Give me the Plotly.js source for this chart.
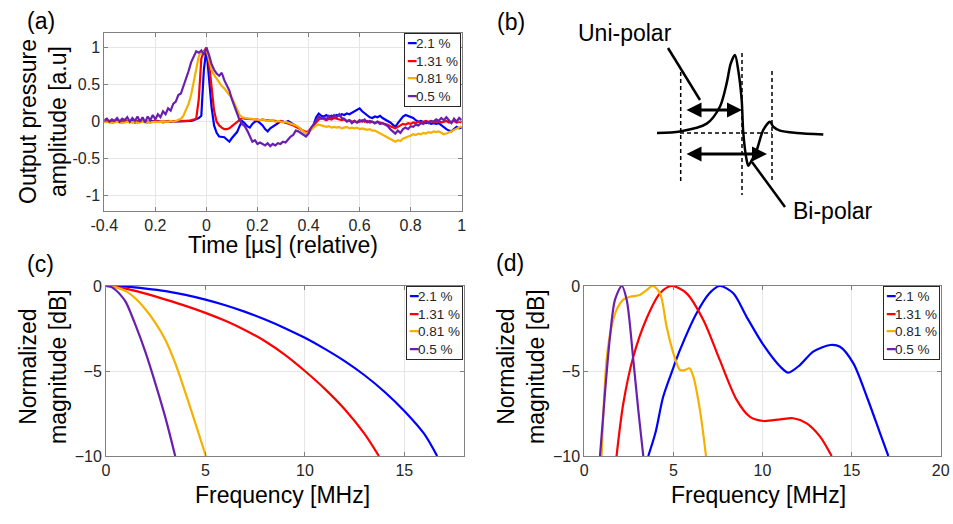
<!DOCTYPE html>
<html>
<head>
<meta charset="utf-8">
<script src="https://cdn.plot.ly/plotly-3.0.1.min.js"></script>
<style>html,body{margin:0;padding:0;background:#fff;}#chart{width:953px;height:524px;}</style>
</head>
<body>
<div id="chart"></div>
<script>
// ---------- DATA ----------
const seriesNames = ['2.1 %', '1.31 %', '0.81 %', '0.5 %'];

// (a) time axis [µs] (relative)
const timeUs = [
-0.40,-0.39,-0.38,-0.37,-0.36,-0.35,-0.34,-0.33,-0.32,-0.31,
-0.30,-0.29,-0.28,-0.27,-0.26,-0.25,-0.24,-0.23,-0.22,-0.21,
-0.20,-0.19,-0.18,-0.17,-0.16,-0.15,-0.14,-0.13,-0.12,-0.11,
-0.10,-0.09,-0.08,-0.07,-0.06,-0.05,-0.04,-0.03,-0.02,-0.01,
0.00,0.01,0.02,0.03,0.04,0.05,0.06,0.07,0.08,0.09,
0.10,0.11,0.12,0.13,0.14,0.15,0.16,0.17,0.18,0.19,
0.20,0.21,0.22,0.23,0.24,0.25,0.26,0.27,0.28,0.29,
0.30,0.31,0.32,0.33,0.34,0.35,0.36,0.37,0.38,0.39,
0.40,0.41,0.42,0.43,0.44,0.45,0.46,0.47,0.48,0.49,
0.50,0.51,0.52,0.53,0.54,0.55,0.56,0.57,0.58,0.59,
0.60,0.61,0.62,0.63,0.64,0.65,0.66,0.67,0.68,0.69,
0.70,0.71,0.72,0.73,0.74,0.75,0.76,0.77,0.78,0.79,
0.80,0.81,0.82,0.83,0.84,0.85,0.86,0.87,0.88,0.89,
0.90,0.91,0.92,0.93,0.94,0.95,0.96,0.97,0.98,0.99,
1.00];

const pressure21 = [
0.01,0.00,0.01,-0.01,0.00,0.01,0.00,-0.01,0.01,0.00,
0.00,0.01,-0.01,0.00,0.01,0.00,0.00,-0.01,0.01,0.00,
0.00,0.01,0.00,-0.01,0.00,0.01,0.00,0.00,0.01,0.00,
0.01,0.00,0.01,0.01,0.01,0.02,0.03,0.05,0.08,0.70,
0.98,0.60,0.20,-0.05,-0.15,-0.20,-0.20,-0.21,-0.24,-0.27,
-0.22,-0.18,-0.14,-0.06,0.01,-0.02,-0.06,-0.08,-0.03,0.00,
0.01,-0.02,-0.05,-0.10,-0.13,-0.09,-0.07,-0.04,-0.02,0.00,
0.00,-0.01,0.01,-0.01,-0.03,-0.05,-0.08,-0.10,-0.13,-0.15,
-0.13,-0.10,-0.04,0.06,0.11,0.08,0.07,0.09,0.06,0.08,
0.07,0.09,0.08,0.10,0.09,0.11,0.10,0.12,0.13,0.15,
0.18,0.14,0.11,0.08,0.06,0.05,0.07,0.06,0.08,0.05,
0.03,0.02,-0.01,-0.04,-0.07,-0.02,0.02,0.07,0.09,0.08,
0.07,0.05,0.02,0.00,0.01,-0.01,-0.02,-0.01,-0.03,-0.02,
-0.03,-0.02,-0.05,-0.08,-0.10,-0.12,-0.13,-0.10,-0.07,-0.09,
-0.08];

const pressure131 = [
0.00,0.01,0.00,0.00,-0.01,0.00,0.01,0.00,0.00,0.01,
0.00,-0.01,0.00,0.01,0.00,0.00,0.01,0.00,-0.01,0.00,
0.01,0.00,0.00,0.01,0.00,0.01,0.00,0.01,0.01,0.00,
0.01,0.01,0.00,0.01,0.02,0.03,0.04,0.30,0.85,0.95,
1.00,0.80,0.50,0.15,0.00,-0.05,-0.08,-0.10,-0.10,-0.09,
-0.06,-0.03,0.00,0.03,0.05,0.04,0.04,0.03,0.04,0.03,
0.03,0.02,0.03,0.02,0.02,0.01,0.02,0.01,0.00,0.01,
0.00,-0.01,-0.02,-0.03,-0.05,-0.07,-0.09,-0.11,-0.12,-0.14,
-0.13,-0.09,-0.05,-0.01,0.03,0.05,0.03,0.02,0.04,0.03,
0.05,0.04,0.03,0.02,0.03,0.01,0.02,0.00,0.01,-0.01,
0.00,0.02,0.00,0.01,-0.01,0.00,-0.02,0.00,-0.01,-0.02,
-0.02,-0.04,-0.06,-0.08,-0.09,-0.07,-0.05,-0.03,-0.04,-0.02,
-0.03,-0.01,-0.02,0.00,-0.01,0.00,0.01,0.00,0.01,-0.01,
0.00,0.01,-0.01,0.00,0.01,-0.01,0.00,0.01,-0.01,0.00,
-0.01];

const pressure081 = [
-0.01,0.00,-0.01,-0.02,-0.01,0.00,-0.01,-0.02,-0.01,0.00,
-0.01,-0.01,0.00,-0.02,-0.01,0.00,-0.01,-0.01,0.00,-0.01,
0.00,-0.01,0.00,0.00,-0.01,0.00,0.01,0.00,0.01,0.02,
0.04,0.08,0.15,0.24,0.36,0.52,0.72,0.88,0.95,0.93,
0.98,0.82,0.70,0.63,0.58,0.52,0.48,0.45,0.40,0.36,
0.32,0.25,0.16,0.09,0.06,0.05,0.05,0.04,0.04,0.03,
0.03,0.02,0.03,0.02,0.01,0.02,0.01,0.00,0.01,0.00,
-0.01,0.00,-0.01,-0.02,-0.03,-0.05,-0.07,-0.10,-0.13,-0.16,
-0.14,-0.11,-0.08,-0.05,-0.04,-0.05,-0.06,-0.07,-0.06,-0.08,
-0.07,-0.08,-0.07,-0.09,-0.08,-0.07,-0.09,-0.08,-0.09,-0.08,
-0.10,-0.09,-0.10,-0.11,-0.10,-0.12,-0.12,-0.14,-0.15,-0.17,
-0.19,-0.21,-0.23,-0.25,-0.27,-0.25,-0.26,-0.23,-0.21,-0.20,
-0.19,-0.17,-0.18,-0.16,-0.17,-0.15,-0.16,-0.14,-0.15,-0.13,
-0.14,-0.13,-0.15,-0.17,-0.16,-0.15,-0.13,-0.11,-0.10,-0.08,
-0.06];

const pressure05 = [
0.02,0.04,0.00,0.03,0.01,0.05,0.00,0.04,0.02,0.06,
0.00,0.05,0.01,0.07,0.00,0.06,-0.01,0.07,0.02,0.09,
0.03,0.10,0.06,0.14,0.10,0.18,0.15,0.24,0.27,0.36,
0.38,0.48,0.55,0.68,0.80,0.88,0.95,0.93,0.96,0.90,
1.00,0.90,0.78,0.70,0.65,0.62,0.66,0.56,0.50,0.42,
0.30,0.20,0.10,0.02,-0.03,-0.06,-0.12,-0.20,-0.27,-0.25,
-0.30,-0.28,-0.30,-0.32,-0.29,-0.33,-0.30,-0.32,-0.29,-0.30,
-0.27,-0.28,-0.24,-0.20,-0.18,-0.12,-0.13,-0.15,-0.18,-0.20,
-0.16,-0.08,-0.04,0.02,0.07,0.04,0.06,0.03,0.08,0.05,
0.09,0.06,0.10,0.05,0.04,0.00,0.02,-0.02,0.01,-0.01,
0.02,0.00,0.03,-0.01,0.01,0.00,-0.02,0.00,-0.03,-0.02,
-0.04,-0.06,-0.10,-0.13,-0.16,-0.12,-0.15,-0.10,-0.08,-0.10,
-0.06,-0.07,-0.04,-0.05,-0.02,-0.03,0.00,-0.02,0.01,0.00,
0.03,0.01,0.05,0.02,0.06,0.02,-0.02,0.04,0.00,0.05,
0.02];

const timeTickVals = [-0.4,-0.2,0,0.2,0.4,0.6,0.8,1];
const timeTickText = ['-0.4','0.2','0','0.2','0.4','0.6','0.8','1'];
const pressTickVals = [-1,-0.5,0,0.5,1];
const pressTickText = ['-1','-0.5','0','0.5','1'];

// (b) schematic pulse (arbitrary time / amplitude units)
const pulseT = [-1.66,-1.2,-0.666,-0.4,-0.266,-0.186,-0.1,-0.034,0.034,0.066,0.134,0.166,0.234,0.334,0.466,0.6,0.666,0.8,1.134,1.666];
const pulseA = [0,0.02,0.12,0.34,0.64,0.89,1.0,0.8,0.42,0.0,-0.35,-0.42,-0.35,-0.22,0.04,0.145,0.08,0.03,0.0,-0.02];

// (c) normalized magnitude [dB] vs frequency [MHz]
const fc21 = [0,1,2,3,4,5,6,7,8,9,10,11,12,13,14,15,16,16.65];
const dBc21 = [0,-0.04,-0.15,-0.3,-0.52,-0.8,-1.13,-1.52,-1.97,-2.48,-3.05,-3.7,-4.42,-5.25,-6.22,-7.35,-8.7,-10];
const fc131 = [0,1,2,3,4,5,6,7,8,9,10,11,12,13,13.72];
const dBc131 = [0,-0.15,-0.45,-0.8,-1.17,-1.58,-2.05,-2.6,-3.25,-4.05,-5.0,-6.05,-7.25,-8.7,-10];
const fc081 = [0,0.5,1,1.5,2,2.5,3,3.5,4,4.5,5.02];
const dBc081 = [0,-0.08,-0.3,-0.75,-1.4,-2.2,-3.2,-4.6,-6.3,-8.1,-10];
const fc05 = [0,0.25,0.5,0.75,1,1.5,2,2.5,3,3.48];
const dBc05 = [0,-0.05,-0.25,-0.55,-0.95,-2.35,-3.95,-5.8,-7.8,-10];

// (d) normalized magnitude [dB] vs frequency [MHz]
const fd21 = [3.59,4.0,4.43,5.0,5.37,6.3,7.0,7.6,8.36,9.1,10.05,11.0,11.45,12.1,12.85,13.8,14.35,15.1,15.85,16.6,17.06];
const dBd21 = [-10,-8.6,-6.5,-4.8,-3.76,-1.6,-0.45,0,-0.43,-1.8,-3.47,-4.75,-5.1,-4.65,-3.86,-3.47,-3.57,-4.55,-6.5,-8.67,-10];
const fd131 = [1.81,2.19,2.75,3.5,4.25,4.9,5.74,6.68,7.6,8.55,9.3,10.05,11.0,11.73,12.48,13.23,13.88];
const dBd131 = [-10,-6.9,-4.16,-1.9,-0.43,0,-0.43,-2.0,-4.35,-6.7,-7.7,-7.94,-7.84,-7.78,-8.08,-8.86,-10];
const fd081 = [0.97,1.25,1.53,1.81,2.19,2.56,3.12,3.5,3.84,4.25,4.62,5.0,5.37,5.65,5.9,6.12,6.49,6.83];
const dBd081 = [-10,-4.35,-2.4,-1.4,-0.8,-0.63,-0.53,-0.24,0,-0.43,-2.4,-3.96,-4.94,-4.94,-4.84,-5.33,-7.3,-10];
const fd05 = [0.88,1.16,1.44,1.72,2.1,2.38,2.75,3.03,3.31];
const dBd05 = [-10,-6.3,-3.0,-0.82,0,-0.82,-4.35,-7.3,-10];

const freqTicksC = [0,5,10,15];
const freqTicksD = [0,5,10,15,20];
const dBTicks = [-10,-5,0];

// ---------- STYLE ----------
const colors = ['#0000ff', '#ff0000', '#f7b000', '#6a1fb0'];
const FONT = 'Liberation Sans, Arial, Helvetica, sans-serif';
const TXT = '#000000';
const TICKC = '#262626';

function line(x, y, i, xa, ya) {
  return {
    type: 'scatter', mode: 'lines', x: x, y: y, xaxis: xa, yaxis: ya,
    name: seriesNames[i], showlegend: false,
    line: {color: colors[i], width: 2.2, shape: xa === 'x' ? 'linear' : 'spline', smoothing: 0.8},
    hoverinfo: 'x+y'
  };
}

const traces = [
  line(timeUs, pressure21, 0, 'x', 'y'),
  line(timeUs, pressure131, 1, 'x', 'y'),
  line(timeUs, pressure081, 2, 'x', 'y'),
  line(timeUs, pressure05, 3, 'x', 'y'),
  line(fc21, dBc21, 0, 'x2', 'y2'),
  line(fc131, dBc131, 1, 'x2', 'y2'),
  line(fc081, dBc081, 2, 'x2', 'y2'),
  line(fc05, dBc05, 3, 'x2', 'y2'),
  line(fd21, dBd21, 0, 'x3', 'y3'),
  line(fd131, dBd131, 1, 'x3', 'y3'),
  line(fd081, dBd081, 2, 'x3', 'y3'),
  line(fd05, dBd05, 3, 'x3', 'y3'),
  {type: 'scatter', mode: 'lines', x: pulseT, y: pulseA, xaxis: 'x4', yaxis: 'y4',
   line: {color: '#000', width: 2.5, shape: 'spline', smoothing: 0.8}, showlegend: false, hoverinfo: 'skip'}
];

function axisStyle(extra) {
  return Object.assign({
    showline: true, mirror: 'ticks', linecolor: '#808080', linewidth: 1,
    showgrid: true, gridcolor: '#e6e6e6', gridwidth: 1, zeroline: false,
    ticks: 'inside', ticklen: 4, tickcolor: '#808080',
    tickfont: {family: FONT, size: 16, color: TICKC}, fixedrange: true
  }, extra);
}

const W = 953, H = 524;
const px = v => v / W;
const py = v => 1 - v / H;

function label(text, x, y, size, angle) {
  return {text: text, xref: 'paper', yref: 'paper', x: px(x), y: py(y),
    xanchor: 'center', yanchor: 'middle', showarrow: false, textangle: angle || 0,
    font: {family: FONT, size: size, color: TXT}};
}

// compact MATLAB-style legend box built from the series names and colours
function legendBox(xr, yt) {
  const rows = seriesNames.map((n, i) =>
    '<span style="color:' + colors[i] + '">\u2501</span>' + n);
  return {text: rows.join('<br>'), xref: 'paper', yref: 'paper', x: px(xr), y: py(yt),
    xanchor: 'right', yanchor: 'top', align: 'left', showarrow: false,
    bgcolor: '#ffffff', bordercolor: '#262626', borderwidth: 1, borderpad: 2,
    font: {family: FONT, size: 13.5, color: TICKC}};
}

const annotations = [
  label('(a)', 41, 21, 23),
  label('(b)', 511, 22, 23),
  label('(c)', 40, 264, 23),
  label('(d)', 510, 263, 23),
  label('Output pressure<br>amplitude [a.u]', 43, 122, 23, -90),
  label('Time [µs] (relative)', 283, 245, 23),
  label('Normalized<br>magnitude [dB]', 43, 367, 23, -90),
  label('Frequency [MHz]', 282, 495, 23),
  label('Normalized<br>magnitude [dB]', 521, 367, 23, -90),
  label('Frequency [MHz]', 758, 495, 23),
  label('Uni-polar', 625, 33, 23),
  label('Bi-polar', 833, 211, 23),
  legendBox(461, 33),
  legendBox(463, 286),
  legendBox(940, 286),
  {text: '', xref: 'x4', yref: 'y4', axref: 'x4', ayref: 'y4', x: 0.04, y: 0.295, ax: -1.1, ay: 0.295,
   showarrow: true, arrowside: 'end+start', arrowhead: 2, startarrowhead: 2, arrowsize: 1, startarrowsize: 1,
   arrowwidth: 3, arrowcolor: '#000', standoff: 0, startstandoff: 0},
  {text: '', xref: 'x4', yref: 'y4', axref: 'x4', ayref: 'y4', x: 0.54, y: -0.269, ax: -1.1, ay: -0.269,
   showarrow: true, arrowside: 'end+start', arrowhead: 2, startarrowhead: 2, arrowsize: 1, startarrowsize: 1,
   arrowwidth: 3, arrowcolor: '#000', standoff: 0, startstandoff: 0}
];

const dash = {color: '#000', width: 1.5, dash: '4px,3px'};
const shapes = [
  {type: 'line', xref: 'x4', yref: 'y4', x0: -1.186, x1: -1.186, y0: 0.782, y1: -0.641, line: dash},
  {type: 'line', xref: 'x4', yref: 'y4', x0: 0.04, x1: 0.04, y0: 1.026, y1: -0.795, line: dash},
  {type: 'line', xref: 'x4', yref: 'y4', x0: 0.64, x1: 0.64, y0: 0.795, y1: -0.641, line: dash},
  {type: 'line', xref: 'x4', yref: 'y4', x0: -1.2, x1: 0.64, y0: 0.0, y1: 0.0, line: dash},
  {type: 'line', xref: 'x4', yref: 'y4', x0: -1.44, x1: -0.8, y0: 1.09, y1: 0.423, line: {color: '#000', width: 2.5}},
  {type: 'line', xref: 'x4', yref: 'y4', x0: 0.24, x1: 0.9, y0: -0.372, y1: -0.949, line: {color: '#000', width: 2.5}}
];

const layout = {
  width: W, height: H, margin: {l: 0, r: 0, t: 0, b: 0},
  paper_bgcolor: '#ffffff', plot_bgcolor: '#ffffff',
  font: {family: FONT, color: TXT},
  showlegend: false,
  xaxis: axisStyle({domain: [px(104.3), px(461.7)], range: [-0.4, 1], anchor: 'y',
    tickmode: 'array', tickvals: timeTickVals, ticktext: timeTickText}),
  yaxis: axisStyle({domain: [py(210.7), py(32.7)], range: [-1.2, 1.2], anchor: 'x',
    tickmode: 'array', tickvals: pressTickVals, ticktext: pressTickText}),
  xaxis2: axisStyle({domain: [px(106), px(464)], range: [0, 18], anchor: 'y2',
    tickmode: 'array', tickvals: freqTicksC}),
  yaxis2: axisStyle({domain: [py(456), py(286)], range: [-10, 0], anchor: 'x2',
    tickmode: 'array', tickvals: dBTicks}),
  xaxis3: axisStyle({domain: [px(584.3), px(940.7)], range: [0, 20], anchor: 'y3',
    tickmode: 'array', tickvals: freqTicksD}),
  yaxis3: axisStyle({domain: [py(456), py(286)], range: [-10, 0], anchor: 'x3',
    tickmode: 'array', tickvals: dBTicks}),
  xaxis4: {domain: [px(620), px(880)], range: [-2.4, 2.8], anchor: 'y4', visible: false, fixedrange: true},
  yaxis4: {domain: [py(230), py(30)], range: [-1.2436, 1.3205], anchor: 'x4', visible: false, fixedrange: true},
  annotations: annotations,
  shapes: shapes
};

Plotly.newPlot('chart', traces, layout, {displayModeBar: false, staticPlot: true});
</script>
</body>
</html>
